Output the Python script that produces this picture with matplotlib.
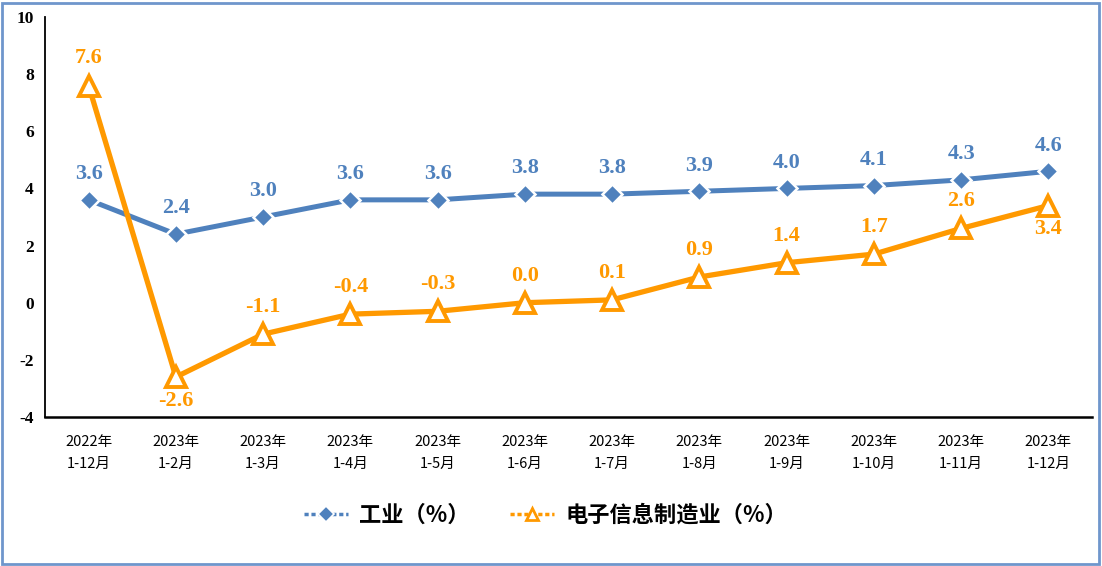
import matplotlib
matplotlib.use("Agg")
import matplotlib.pyplot as plt
from matplotlib.lines import Line2D
from matplotlib.patches import Rectangle

categories = ["2022年\n1-12月", "2023年\n1-2月", "2023年\n1-3月", "2023年\n1-4月",
              "2023年\n1-5月", "2023年\n1-6月", "2023年\n1-7月", "2023年\n1-8月",
              "2023年\n1-9月", "2023年\n1-10月", "2023年\n1-11月", "2023年\n1-12月"]
industry = [3.6, 2.4, 3.0, 3.6, 3.6, 3.8, 3.8, 3.9, 4.0, 4.1, 4.3, 4.6]
electronics = [7.6, -2.6, -1.1, -0.4, -0.3, 0.0, 0.1, 0.9, 1.4, 1.7, 2.6, 3.4]
yticks = [-4, -2, 0, 2, 4, 6, 8, 10]
series_names = ["工业（%）", "电子信息制造业（%）"]

BLUE = "#4F81BD"
ORANGE = "#FF9900"

plt.rcParams['font.family'] = ['Noto Sans CJK SC', 'DejaVu Sans']

fig = plt.figure(figsize=(11.02, 5.66), dpi=100)
ax = fig.add_axes([45/1102, 1-417/566, (1092-45)/1102, 400/566])

x = list(range(len(categories)))
ax.plot(x, industry, color=BLUE, lw=3.6, marker="D", markersize=10,
        markerfacecolor=BLUE, markeredgecolor="white", markeredgewidth=1.8, zorder=3)
ax.plot(x, electronics, color=ORANGE, lw=3.8, marker="^", markersize=14,
        markerfacecolor="white", markeredgecolor=ORANGE, markeredgewidth=2.8, zorder=4)

ax.set_xlim(-0.5, len(categories) - 0.5)
ax.set_ylim(-4, 10)
ax.set_yticks(yticks)
ax.set_yticklabels([str(t) for t in yticks], fontfamily="Liberation Serif",
                   fontweight="bold", fontsize=12.5)
ax.set_xticks(x)
ax.set_xticklabels(categories, fontsize=10.5, linespacing=1.75)
ax.tick_params(axis="both", length=0)
ax.tick_params(axis="y", pad=8)
ax.tick_params(axis="x", pad=13)
for s in ["top", "right"]:
    ax.spines[s].set_visible(False)
ax.spines["left"].set_linewidth(1.3)
ax.spines["bottom"].set_linewidth(1.8)

for xi, v in zip(x, industry):
    ax.annotate(f"{v:.1f}", (xi, v), xytext=(0, 18.5), textcoords="offset points",
                ha="center", va="center", color=BLUE, fontsize=16,
                fontweight="bold", fontfamily="Liberation Serif")
below = {1, 11}
for xi, v in zip(x, electronics):
    dy = -17 if xi in below else 19.5
    ax.annotate(f"{v:.1f}", (xi, v), xytext=(0, dy), textcoords="offset points",
                ha="center", va="center", color=ORANGE, fontsize=16,
                fontweight="bold", fontfamily="Liberation Serif")

handles = [
    Line2D([], [], color=BLUE, lw=2.5, ls=(0, (1.2, 0.8)), marker="D", markersize=8,
           markerfacecolor=BLUE, markeredgecolor="white", markeredgewidth=1.2),
    Line2D([], [], color=ORANGE, lw=2.5, ls=(0, (1.2, 0.8)), marker="^", markersize=9,
           markerfacecolor="white", markeredgecolor=ORANGE, markeredgewidth=2),
]
fig.legend(handles, series_names, loc="center", bbox_to_anchor=(0.495, 1-515/566),
           ncol=2, frameon=False, handlelength=2.0, columnspacing=1.8, handletextpad=0.5,
           prop={"family": ["Noto Sans CJK SC"], "weight": "bold", "size": 16})

fig.patches.append(Rectangle((2/1102, 2/566), 1-5/1102, 1-5/566, transform=fig.transFigure,
                             fill=False, edgecolor="#6F96CC", lw=2, zorder=10))

fig.savefig("out.png", dpi=100)
